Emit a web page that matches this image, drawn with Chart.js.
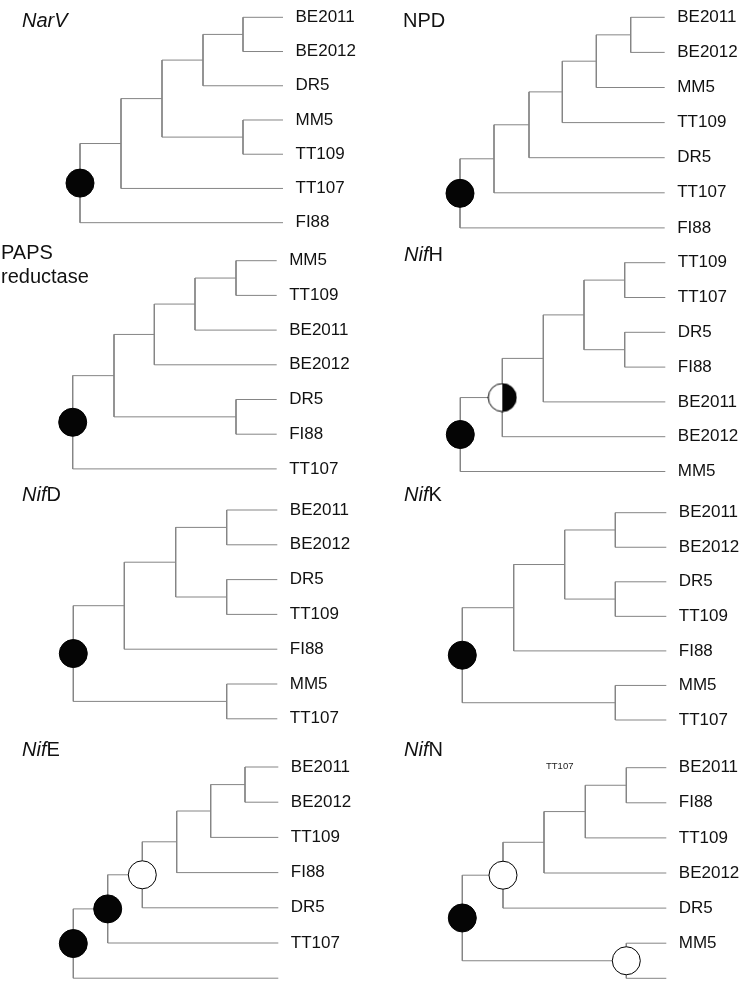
<!DOCTYPE html>
<html>
<head>
<meta charset="utf-8">
<script src="https://cdn.jsdelivr.net/npm/chart.js@4.4.1/dist/chart.umd.min.js"></script>
<style>
  body { margin: 0; background: #fff; }
  #fig { position: relative; width: 756px; height: 994px; overflow: hidden; font-family: "Liberation Sans", Arial, sans-serif; color: #111; }
  #fig canvas { position: absolute; }
  .title { position: absolute; font-size: 20px; line-height: 24px; white-space: nowrap; }
  .note { position: absolute; font-size: 9.5px; line-height: 12px; color: #222; }
</style>
</head>
<body>
<div id="fig"></div>
<script>
// leaf order (top to bottom) and internal nodes [childA, childB, branch x]
// a child is a leaf name, or the index of an earlier node
const narvLeaves = ['BE2011', 'BE2012', 'DR5', 'MM5', 'TT109', 'TT107', 'FI88'];
const narvNodes = [['BE2011', 'BE2012', 243], [0, 'DR5', 203], ['MM5', 'TT109', 243], [1, 2, 162], [3, 'TT107', 121], [4, 'FI88', 80]];
const narvTip = 283;
const narvMarks = [[5, 'full']];

const npdLeaves = ['BE2011', 'BE2012', 'MM5', 'TT109', 'DR5', 'TT107', 'FI88'];
const npdNodes = [['BE2011', 'BE2012', 252.7], [0, 'MM5', 218.3], [1, 'TT109', 184.3], [2, 'DR5', 151], [3, 'TT107', 116], [4, 'FI88', 82]];
const npdTip = 286.7;
const npdMarks = [[5, 'full']];

const papsLeaves = ['MM5', 'TT109', 'BE2011', 'BE2012', 'DR5', 'FI88', 'TT107'];
const papsNodes = [['MM5', 'TT109', 236], [0, 'BE2011', 195], [1, 'BE2012', 154.3], ['DR5', 'FI88', 236], [2, 3, 114], [4, 'TT107', 72.7]];
const papsTip = 276.7;
const papsMarks = [[5, 'full']];

const nifhLeaves = ['TT109', 'TT107', 'DR5', 'FI88', 'BE2011', 'BE2012', 'MM5'];
const nifhNodes = [['TT109', 'TT107', 246.7], ['DR5', 'FI88', 246.7], [0, 1, 206], [2, 'BE2011', 165.3], [3, 'BE2012', 124.3], [4, 'MM5', 82.3]];
const nifhTip = 287.3;
const nifhMarks = [[4, 'half'], [5, 'full']];

const nifdLeaves = ['BE2011', 'BE2012', 'DR5', 'TT109', 'FI88', 'MM5', 'TT107'];
const nifdNodes = [['BE2011', 'BE2012', 226.7], ['DR5', 'TT109', 226.7], [0, 1, 175.7], [2, 'FI88', 124.3], ['MM5', 'TT107', 226.7], [3, 4, 73.3]];
const nifdTip = 277.3;
const nifdMarks = [[5, 'full']];

const nifkLeaves = ['BE2011', 'BE2012', 'DR5', 'TT109', 'FI88', 'MM5', 'TT107'];
const nifkNodes = [['BE2011', 'BE2012', 237.3], ['DR5', 'TT109', 237.3], [0, 1, 186.7], [2, 'FI88', 135.7], ['MM5', 'TT107', 237.3], [3, 4, 84.3]];
const nifkTip = 288.3;
const nifkMarks = [[5, 'full']];

const nifeLeaves = ['BE2011', 'BE2012', 'TT109', 'FI88', 'DR5', 'TT107', ''];
const nifeNodes = [['BE2011', 'BE2012', 245], [0, 'TT109', 210.7], [1, 'FI88', 176.7], [2, 'DR5', 142.3], [3, 'TT107', 107.7], [4, '', 73.3]];
const nifeTip = 278.3;
const nifeMarks = [[3, 'open'], [4, 'full'], [5, 'full']];

const nifnLeaves = ['BE2011', 'FI88', 'TT109', 'BE2012', 'DR5', 'MM5', ''];
const nifnNodes = [['BE2011', 'FI88', 248.3], [0, 'TT109', 207.3], [1, 'BE2012', 166], [2, 'DR5', 125], ['MM5', '', 248.3], [3, 4, 84.3]];
const nifnTip = 288.3;
const nifnMarks = [[3, 'open'], [4, 'open'], [5, 'full']];

const titles = ['<i>NarV</i>', 'NPD', 'PAPS<br>reductase', '<i>Nif</i>H', '<i>Nif</i>D', '<i>Nif</i>K', '<i>Nif</i>E', '<i>Nif</i>N'];

// panel placement: left, y of first leaf, leaf spacing, title left, title top
const panels = [
  { leaves: narvLeaves, nodes: narvNodes, tip: narvTip, marks: narvMarks, left: 0, first: 17.3, step: 34.23, tx: 22, ty: 7.5 },
  { leaves: npdLeaves, nodes: npdNodes, tip: npdTip, marks: npdMarks, left: 378, first: 17.3, step: 35.1, tx: 403, ty: 8.2 },
  { leaves: papsLeaves, nodes: papsNodes, tip: papsTip, marks: papsMarks, left: 0, first: 260.7, step: 34.7, tx: 1, ty: 240 },
  { leaves: nifhLeaves, nodes: nifhNodes, tip: nifhTip, marks: nifhMarks, left: 378, first: 262.7, step: 34.8, tx: 404, ty: 242.2 },
  { leaves: nifdLeaves, nodes: nifdNodes, tip: nifdTip, marks: nifdMarks, left: 0, first: 510, step: 34.8, tx: 22, ty: 481.5 },
  { leaves: nifkLeaves, nodes: nifkNodes, tip: nifkTip, marks: nifkMarks, left: 378, first: 512.7, step: 34.55, tx: 404, ty: 482.2 },
  { leaves: nifeLeaves, nodes: nifeNodes, tip: nifeTip, marks: nifeMarks, left: 0, first: 767, step: 35.2, tx: 22, ty: 737.2 },
  { leaves: nifnLeaves, nodes: nifnNodes, tip: nifnTip, marks: nifnMarks, left: 378, first: 767.7, step: 35.1, tx: 404, ty: 737.2 }
];

const fig = document.getElementById('fig');
const lineColor = '#858585';
const labelFont = '17px "Liberation Sans", Arial, sans-serif';

// half white / half black node marker
const halfDot = document.createElement('canvas');
halfDot.width = 30; halfDot.height = 30;
(function () {
  const c = halfDot.getContext('2d');
  c.beginPath(); c.arc(15, 15, 14, 0, Math.PI * 2); c.fillStyle = '#fff'; c.fill();
  c.beginPath(); c.moveTo(15, 1); c.arc(15, 15, 14, -Math.PI / 2, Math.PI / 2); c.closePath(); c.fillStyle = '#050505'; c.fill();
  c.beginPath(); c.arc(15, 15, 14, 0, Math.PI * 2); c.lineWidth = 1; c.strokeStyle = '#000'; c.stroke();
})();

function layoutTree(p) {
  const pos = [];
  const at = ref => typeof ref === 'number' ? pos[ref] : { x: p.tip, y: p.leaves.indexOf(ref) };
  p.nodes.forEach(n => {
    const a = at(n[0]), b = at(n[1]);
    pos.push({ x: n[2], y: (a.y + b.y) / 2, a, b });
  });
  return pos;
}

panels.forEach((p, k) => {
  const top = Math.floor(p.first - p.step / 2 - 2);
  const height = Math.ceil(7 * p.step + 6);
  const yMin = (top - p.first) / p.step;
  const yMax = yMin + height / p.step;

  const canvas = document.createElement('canvas');
  canvas.width = 378; canvas.height = height;
  canvas.style.left = p.left + 'px';
  canvas.style.top = top + 'px';
  fig.appendChild(canvas);

  const t = document.createElement('div');
  t.className = 'title';
  t.style.left = p.tx + 'px';
  t.style.top = p.ty + 'px';
  t.innerHTML = titles[k];
  fig.appendChild(t);

  const pos = layoutTree(p);
  const branches = pos.map(n => ({
    data: [{ x: n.a.x, y: n.a.y }, { x: n.x, y: n.a.y }, { x: n.x, y: n.b.y }, { x: n.b.x, y: n.b.y }],
    showLine: true, borderColor: lineColor, borderWidth: 1, pointRadius: 0, tension: 0, order: 1, clip: false
  }));
  const dots = {
    data: p.marks.map(m => ({ x: pos[m[0]].x, y: pos[m[0]].y, kind: m[1] })),
    showLine: false, order: 0, clip: false,
    pointRadius: 14,
    pointStyle: c => c.raw && c.raw.kind === 'half' ? halfDot : 'circle',
    pointBackgroundColor: c => c.raw && c.raw.kind === 'open' ? '#fff' : '#050505',
    pointBorderColor: '#000',
    pointBorderWidth: 1
  };

  new Chart(canvas, {
    type: 'scatter',
    data: { datasets: branches.concat([dots]) },
    options: {
      responsive: false,
      animation: false,
      events: [],
      layout: { padding: 0, autoPadding: false },
      scales: {
        x: { type: 'linear', display: false, min: 0, max: 378 },
        y: { type: 'linear', display: false, min: yMin, max: yMax, reverse: true }
      },
      plugins: { legend: { display: false }, tooltip: { enabled: false } }
    },
    plugins: [{
      id: 'leafLabels',
      afterDatasetsDraw(chart) {
        const { ctx, scales } = chart;
        ctx.save();
        ctx.font = labelFont;
        ctx.fillStyle = '#111';
        ctx.textBaseline = 'middle';
        p.leaves.forEach((name, i) => {
          ctx.fillText(name, scales.x.getPixelForValue(p.tip + 12.5), scales.y.getPixelForValue(i));
        });
        ctx.restore();
      }
    }]
  });
});

// stray small label printed in the NifN panel
const note = document.createElement('div');
note.className = 'note';
note.style.left = '546px';
note.style.top = '760px';
note.textContent = 'TT107';
fig.appendChild(note);
</script>
</body>
</html>
